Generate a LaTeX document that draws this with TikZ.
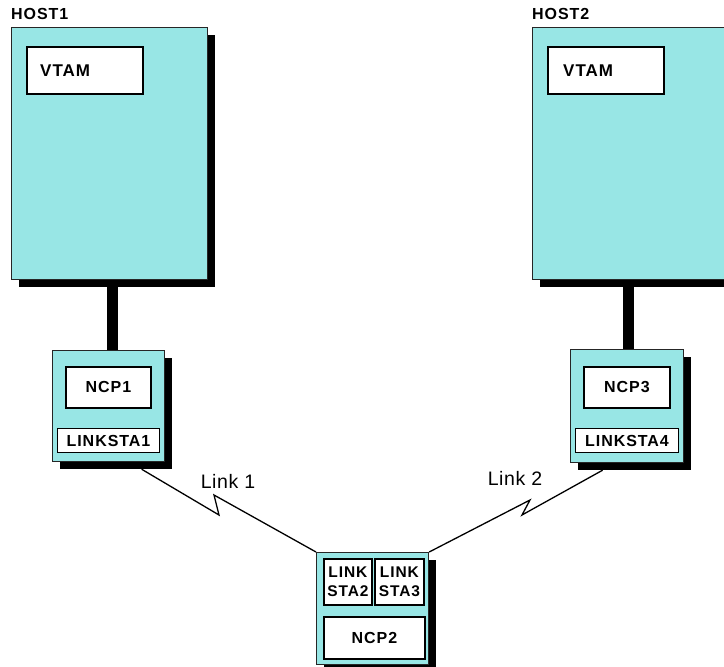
\documentclass[tikz,border=0pt]{standalone}
\usepackage{fontspec}
\setmainfont{Liberation Sans}
\usepackage{tikz}
\usetikzlibrary{shadows,positioning}
\definecolor{HostCyan}{RGB}{152,230,229}

\begin{document}
\begin{tikzpicture}[x=1pt, y=-1pt,
		cyanbox/.style={draw=black!85, line width=1.2pt, fill=HostCyan, inner sep=0pt, anchor=north west,
			drop shadow={shadow xshift=7pt, shadow yshift=-7pt, fill=black, opacity=1}},
		whitebox/.style={draw=black, line width=1.8pt, fill=white, inner sep=0pt, anchor=north west},
		boxtext/.style={font=\fontsize{16}{19}\selectfont\bfseries\addfontfeatures{LetterSpace=6}},
		hosttext/.style={font=\fontsize{16}{19}\selectfont\bfseries\addfontfeatures{LetterSpace=6}, anchor=west, inner sep=0pt},
		smalltext/.style={font=\fontsize{15.5}{19.3}\selectfont\bfseries\addfontfeatures{LetterSpace=6}, align=center},
		trunk/.style={line width=11pt, black},
		link/.style={line width=1.3pt, black},
		linklabel/.style={font=\fontsize{19.5}{21}\selectfont\addfontfeatures{LetterSpace=3}}]
		\useasboundingbox (0,0) rectangle (724,667);
		% hosts
		\node[cyanbox, minimum width=196pt, minimum height=252pt] (host1) at (11,27) {};
		\node[cyanbox, minimum width=196pt, minimum height=252pt] (host2) at (532,27) {};
		\node[hosttext] (host1label) at (11,14) {HOST1};
		\node[hosttext] (host2label) at (532,14) {HOST2};
		\node[whitebox, minimum width=116pt, minimum height=47pt] (vtam1) at (26,46) {};
		\node[whitebox, minimum width=116pt, minimum height=47pt] (vtam2) at (547,46) {};
		\node[boxtext, font=\fontsize{17}{19}\selectfont\bfseries\addfontfeatures{LetterSpace=6}, anchor=west, inner sep=0pt] (vtam1text) at ([xshift=14pt]vtam1.west) {VTAM};
		\node[boxtext, font=\fontsize{17}{19}\selectfont\bfseries\addfontfeatures{LetterSpace=6}, anchor=west, inner sep=0pt] (vtam2text) at ([xshift=16pt]vtam2.west) {VTAM};
		% NCP1 and NCP3
		\node[cyanbox, minimum width=112pt, minimum height=111pt] (ncp1) at (52,350) {};
		\node[cyanbox, minimum width=113pt, minimum height=113pt] (ncp3) at (570,349) {};
		\node[whitebox, boxtext, minimum width=85pt, minimum height=41pt] (ncp1box) at (65,366) {NCP1};
		\node[whitebox, boxtext, minimum width=86pt, minimum height=41pt] (ncp3box) at (583,366) {NCP3};
		\node[whitebox, boxtext, line width=1pt, minimum width=102pt, minimum height=24pt] (linksta1) at (57,428) {LINKSTA1};
		\node[whitebox, boxtext, line width=1pt, minimum width=103pt, minimum height=24pt] (linksta4) at (575,428) {LINKSTA4};
		% trunks
		\draw[trunk] ([xshift=3.5pt]ncp1.north) -- ([xshift=3.5pt]ncp1.north |- host1.south);
		\draw[trunk] ([xshift=1pt]ncp3.north) -- ([xshift=1pt]ncp3.north |- host2.south);
		% NCP2
		\node[cyanbox, minimum width=112pt, minimum height=112pt] (ncp2) at (316,552) {};
		\node[whitebox, smalltext, minimum width=48pt, minimum height=46pt] (linksta2) at (323,558) {LINK\\STA2};
		\node[whitebox, smalltext, minimum width=49pt, minimum height=46pt] (linksta3) at (374,558) {LINK\\STA3};
		\node[whitebox, boxtext, minimum width=101pt, minimum height=42pt] (ncp2box) at (323,616) {NCP2};
		% links
		\draw[link] ([shift={(33,7)}]ncp1.south) -- (219,515) -- (214,495) -- (ncp2.north west);
		\draw[link] ([shift={(-24.5,7)}]ncp3.south) -- (522,515) -- (530,500) -- (ncp2.north east);
		\node[linklabel] (link1) at (228,481) {Link 1};
		\node[linklabel] (link2) at (515,478) {Link 2};
	\end{tikzpicture}
\end{document}
